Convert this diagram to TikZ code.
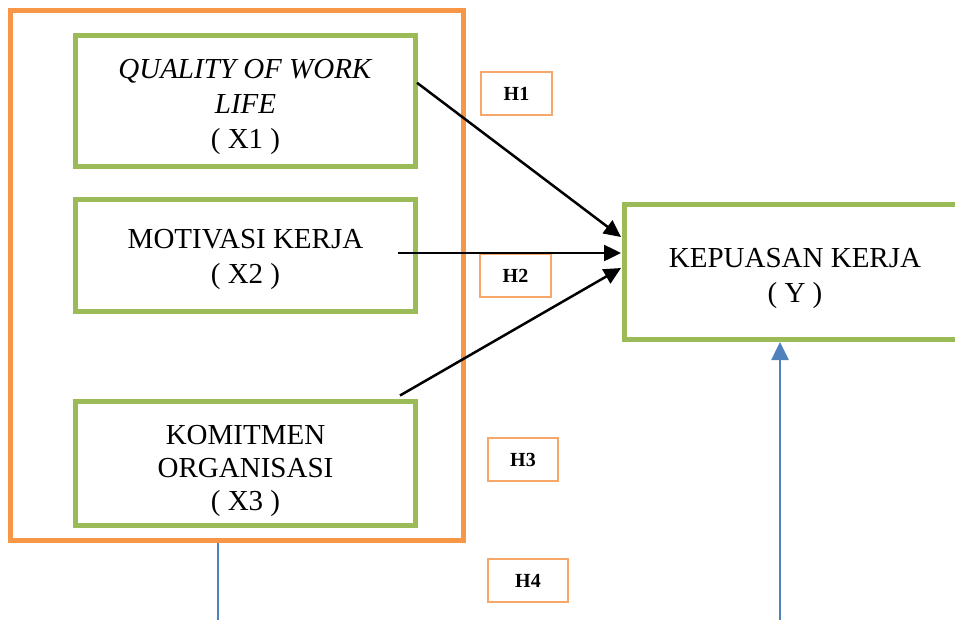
\documentclass[tikz,border=0pt]{standalone}
\usepackage{fontspec}
\setmainfont{Liberation Serif}
\usetikzlibrary{arrows.meta,calc}
\definecolor{grn}{HTML}{9BBB59}
\definecolor{org}{HTML}{F79646}
\definecolor{hbord}{HTML}{F7A76A}
\definecolor{blu}{HTML}{4F81BD}
\begin{document}
\begin{tikzpicture}[x=1pt,y=-1pt,
  varbox/.style={draw=grn,line width=5pt,inner sep=0pt},
  vartext/.style={align=center,inner sep=0pt,font=\fontsize{29}{35}\selectfont},
  grpbox/.style={draw=org,line width=5pt,inner sep=0pt},
  hbox/.style={draw=hbord,line width=1.2pt,inner sep=0pt,minimum height=43pt,
    font=\fontsize{20}{24}\selectfont\bfseries},
  arr/.style={line width=2.5pt,-{Triangle[length=17pt,width=16pt]}},
  barr/.style={draw=blu,line width=2.6pt,-{Triangle[length=18pt,width=17pt]}},
  bline/.style={draw=blu,line width=1.8pt}]
\useasboundingbox (0,0) rectangle (955,619);
\node[grpbox,minimum width=452.5pt,minimum height=529.5pt] (grp) at (236.75,275.25) {};
\node[varbox,minimum width=340pt,minimum height=130.5pt] (X1) at (245.5,100.75) {};
\node[varbox,minimum width=340pt,minimum height=112pt] (X2) at (245.5,255) {};
\node[varbox,minimum width=340pt,minimum height=124.5pt] (X3) at (245.5,463.25) {};
\node[varbox,minimum width=341pt,minimum height=135pt] (Y) at (795,272) {};
\node[vartext] (X1t) at ($(X1)+(0,6)$) {\textit{QUALITY OF WORK}\\\textit{LIFE}\\( X1 )};
\node[vartext] (X2t) at ($(X2)+(0,4)$) {MOTIVASI KERJA\\( X2 )};
\node[vartext,font=\fontsize{29}{33}\selectfont] (X3t) at ($(X3)+(0,8)$) {KOMITMEN\\ORGANISASI\\( X3 )};
\node[vartext] (Yt) at ($(Y)+(0,6)$) {KEPUASAN KERJA\\( Y )};
\node[hbox,minimum width=71pt] (H1) at (516.5,93.5) {H1};
\node[hbox,minimum width=71pt] (H2) at (515.5,275.5) {H2};
\node[hbox,minimum width=70pt] (H3) at (523,459.5) {H3};
\node[hbox,minimum width=80pt] (H4) at (528,580.5) {H4};
\coordinate (b1) at (218,625);
\coordinate (b2) at (780,625);
\draw[arr] ($(X1.east)+(-1,-18)$) -- ($(Y.west)+(-1,-35)$);
\draw[arr] ($(X2.east)+(-20,-2)$) -- ($(Y.west)+(-1,-19)$);
\draw[arr] ($(X3.north east)+(-18,-3)$) -- ($(Y.west)+(-1,-4)$);
\draw[bline] ($(grp.south west)+(210,0)$) -- (b1);
\draw[barr] (b2) -- ($(Y.south)+(-15,0)$);
\end{tikzpicture}
\end{document}
